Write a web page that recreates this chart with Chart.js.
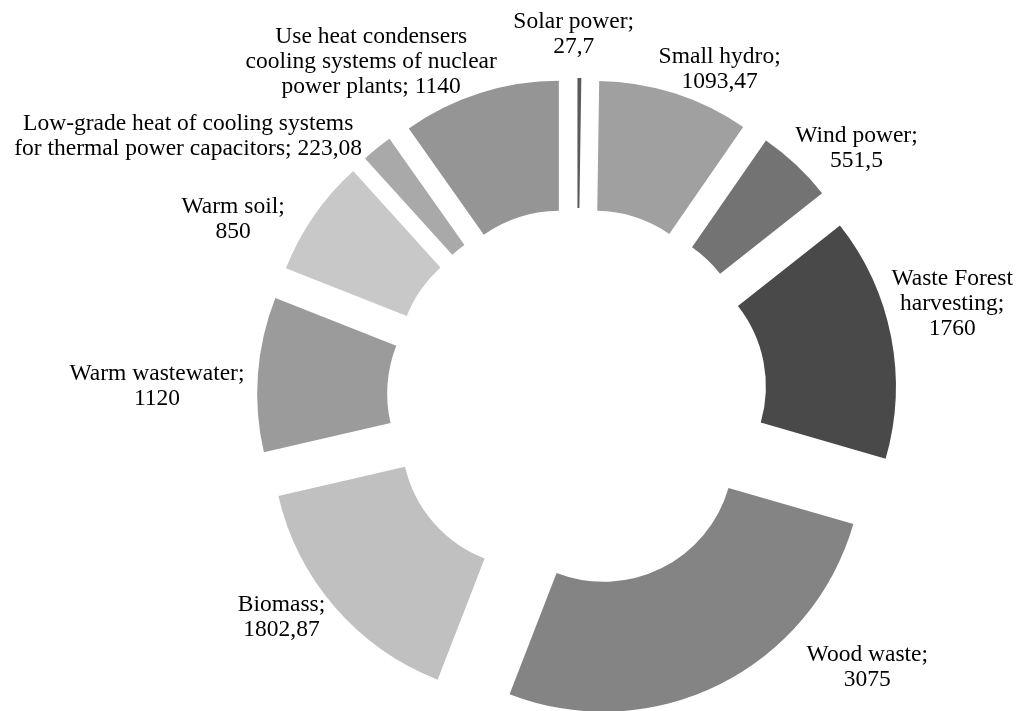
<!DOCTYPE html>
<html>
<head>
<meta charset="utf-8">
<script src="https://cdn.jsdelivr.net/npm/chart.js@4.4.0/dist/chart.umd.min.js"></script>
<style>
  body { margin: 0; background: #fff; }
</style>
</head>
<body>
<canvas id="energyChart" width="1018" height="711"></canvas>
<script>
const categories = [
    'Solar power',
    'Small hydro',
    'Wind power',
    'Waste Forest harvesting',
    'Wood waste',
    'Biomass',
    'Warm wastewater',
    'Warm soil',
    'Low-grade heat of cooling systems for thermal power capacitors',
    'Use heat condensers cooling systems of nuclear power plants'
];
const potentialValues = [27.7, 1093.47, 551.5, 1760, 3075, 1802.87, 1120, 850, 223.08, 1140];
const sliceColors = ['#5a5a5a', '#a0a0a0', '#737373', '#494949', '#848484', '#c0c0c0', '#9b9b9b', '#c8c8c8', '#a9a9a9', '#959595'];

// label layout: wrap width and small nudge (px) per slice
const labelWrap = [135, 135, 135, 135, 135, 135, 190, 135, 358, 265];
const labelNudge = [[-6, 2], [31, 20], [29, 17], [16, -24], [128, -59], [-19, -20], [-55, 16], [-43, 30], [-160, 24], [-95, 13]];

const EXPLODE = 60; // how far every slice is pulled out (px)
const LABEL_FONT = '23.5px "Liberation Serif", "Times New Roman", serif';

const wrapText = (ctx, text, maxWidth) => {
    const words = text.split(' ');
    let lines = [];
    let line = '';
    words.forEach(word => {
        const test = line ? line + ' ' + word : word;
        if (line && ctx.measureText(test).width > maxWidth) {
            lines.push(line);
            line = word;
        } else {
            line = test;
        }
    });
    lines.push(line);
    return lines;
}

// excel style explosion: shift each slice along its middle angle instead of chart.js' offset
const explodedSlices = {
    id: 'explodedSlices',
    beforeDatasetDraw(chart, args) {
        const ctx = chart.ctx;
        args.meta.data.forEach(arc => {
            const { startAngle, endAngle } = arc.getProps(['startAngle', 'endAngle'], true);
            const mid = (startAngle + endAngle) / 2;
            ctx.save();
            ctx.translate(Math.cos(mid) * EXPLODE, Math.sin(mid) * EXPLODE);
            arc.draw(ctx);
            ctx.restore();
        });
        return false;
    }
};

const outsideLabels = {
    id: 'outsideLabels',
    afterDatasetsDraw(chart) {
        const ctx = chart.ctx;
        const meta = chart.getDatasetMeta(0);
        ctx.save();
        ctx.font = LABEL_FONT;
        ctx.fillStyle = '#000';
        ctx.textAlign = 'center';
        ctx.textBaseline = 'middle';
        meta.data.forEach((arc, i) => {
            const { x, y, startAngle, endAngle, outerRadius } = arc.getProps(['x', 'y', 'startAngle', 'endAngle', 'outerRadius'], true);
            const mid = (startAngle + endAngle) / 2;
            const dist = outerRadius + EXPLODE + 46;
            const lx = x + Math.cos(mid) * dist + labelNudge[i][0];
            const ly = y + Math.sin(mid) * dist + labelNudge[i][1];
            const valueText = String(potentialValues[i]).replace('.', ',');
            const lines = wrapText(ctx, categories[i] + '; ' + valueText, labelWrap[i]);
            const lineHeight = 25;
            lines.forEach((ln, k) => {
                ctx.fillText(ln, lx, ly + (k - (lines.length - 1) / 2) * lineHeight);
            });
        });
        ctx.restore();
    }
};

new Chart(document.getElementById('energyChart'), {
    type: 'doughnut',
    data: {
        labels: categories,
        datasets: [{
            data: potentialValues,
            backgroundColor: sliceColors,
            borderWidth: 0,
            offset: 0,
            radius: 260,
            cutout: '50%'
        }]
    },
    options: {
        responsive: false,
        animation: false,
        layout: {
            padding: { left: 136, top: 85, right: 0, bottom: 0 }
        },
        plugins: {
            legend: { display: false },
            tooltip: { enabled: false }
        }
    },
    plugins: [explodedSlices, outsideLabels]
});
</script>
</body>
</html>
